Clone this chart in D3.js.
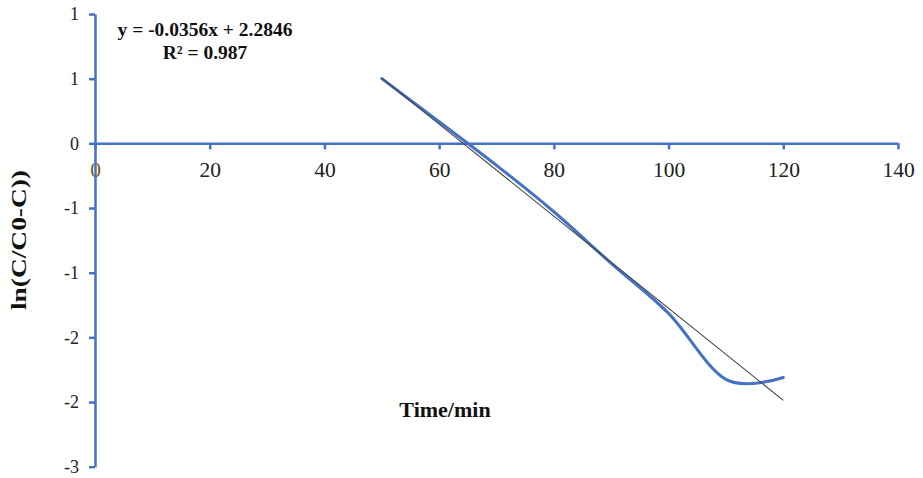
<!DOCTYPE html>
<html>
<head>
<meta charset="utf-8">
<script src="https://cdn.jsdelivr.net/npm/d3@7"></script>
<style>
  html, body { margin: 0; padding: 0; background: #fff; }
  svg { display: block; }
</style>
</head>
<body>
<svg id="chart" width="923" height="478"></svg>
<script>
// ---- data ----
const times = [50, 60, 70, 80, 90, 100, 110, 120];
const lnValues = [0.50, 0.167, -0.17, -0.529, -0.928, -1.315, -1.825, -1.81];
const trendSlope = -0.0356;
const trendIntercept = 2.2846;
const trendRange = [50, 120];
const xTickValues = [0, 20, 40, 60, 80, 100, 120, 140];
const xTickLabels = ["0", "20", "40", "60", "80", "100", "120", "140"];
const yTickValues = [1, 0.5, 0, -0.5, -1, -1.5, -2, -2.5];
const yTickLabels = ["1", "1", "0", "-1", "-1", "-2", "-2", "-3"];
const equationLines = ["y = -0.0356x + 2.2846", "R\u00b2 = 0.987"];
const xTitle = "Time/min";
const yTitle = "ln(C/C0-C))";

// ---- layout ----
const svg = d3.select("#chart");
const axisColor = "#4472C4";
const serif = "'Liberation Serif', 'Times New Roman', serif";
const x = d3.scaleLinear().domain([0, 140]).range([95, 898]);
const y = d3.scaleLinear().domain([-2.5, 1]).range([466.7, 14]);

// x axis at y=0
const xAxis = svg.append("g")
  .attr("transform", `translate(0,${y(0)})`)
  .call(d3.axisBottom(x).tickValues(xTickValues)
    .tickFormat((d, i) => xTickLabels[i]).tickSize(6).tickSizeOuter(0));
xAxis.select(".domain").attr("stroke", axisColor).attr("stroke-width", 2.5);
xAxis.selectAll(".tick line").attr("stroke", axisColor).attr("stroke-width", 2.5);
xAxis.selectAll(".tick text")
  .attr("y", 18).attr("dy", "0.71em")
  .attr("font-family", serif)
  .attr("font-size", 21.5).attr("fill", (d, i) => i === 0 ? "#7f5a12" : "#222");

// y axis
const yAxis = svg.append("g")
  .attr("transform", `translate(${x(0)},0)`)
  .call(d3.axisLeft(y).tickValues(yTickValues)
    .tickFormat((d, i) => yTickLabels[i]).tickSize(6).tickSizeOuter(0));
yAxis.select(".domain").attr("stroke", axisColor).attr("stroke-width", 2.5);
yAxis.selectAll(".tick line").attr("stroke", axisColor).attr("stroke-width", 2.5);
yAxis.selectAll(".tick text")
  .attr("x", -16)
  .attr("font-family", serif)
  .attr("font-size", 18).attr("fill", "#222");

// data curve (smoothed)
const data = times.map((t, i) => ({ t, v: lnValues[i] }));
const line = d3.line().x(d => x(d.t)).y(d => y(d.v)).curve(d3.curveCardinal.tension(0));
svg.append("path").datum(data)
  .attr("d", line)
  .attr("fill", "none")
  .attr("stroke", axisColor)
  .attr("stroke-width", 3)
  .attr("stroke-linecap", "round");

// trendline
const trend = trendRange.map(t => ({ t, v: trendSlope * t + trendIntercept }));
svg.append("path").datum(trend)
  .attr("d", d3.line().x(d => x(d.t)).y(d => y(d.v)))
  .attr("fill", "none")
  .attr("stroke", "#444")
  .attr("stroke-width", 1.1);

// equation
svg.append("g").selectAll("text").data(equationLines).join("text")
  .attr("x", 205).attr("y", (d, i) => 36 + i * 23)
  .attr("text-anchor", "middle")
  .attr("font-family", serif)
  .attr("font-weight", "bold").attr("font-size", 19.5).attr("fill", "#111")
  .text(d => d);

// axis titles
svg.append("text")
  .attr("x", 445).attr("y", 417)
  .attr("text-anchor", "middle")
  .attr("font-family", serif)
  .attr("font-weight", "bold").attr("font-size", 22).attr("fill", "#111")
  .text(xTitle);

svg.append("text")
  .attr("transform", "translate(26,240) rotate(-90)")
  .attr("text-anchor", "middle")
  .attr("font-family", serif)
  .attr("font-weight", "bold").attr("font-size", 21)
  .attr("textLength", 140).attr("lengthAdjust", "spacingAndGlyphs")
  .attr("fill", "#111")
  .text(yTitle);
</script>
</body>
</html>
